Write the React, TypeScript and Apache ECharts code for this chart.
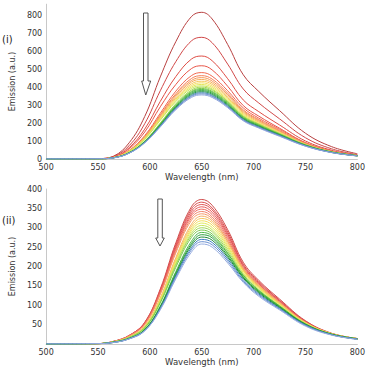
import React, { useEffect, useRef } from "react";
import * as echarts from "echarts";

// Wavelength sampling (nm)
const wavelengths = [500, 550, 565, 580, 595, 610, 625, 640, 650, 660, 675, 690, 705, 725, 750, 775, 800];

// Panel (i) emission spectra (a.u.), highest to lowest
const panelISpectra: number[][] = [
  [0, 2, 16, 90, 236, 456, 652, 791, 815, 778, 636, 468, 375, 269, 143, 69, 29],
  [0, 2, 14, 74, 196, 379, 541, 656, 676, 646, 527, 389, 311, 223, 118, 57, 24],
  [0, 2, 11, 63, 166, 320, 458, 555, 572, 546, 446, 328, 263, 189, 100, 49, 20],
  [0, 2, 10, 57, 150, 290, 414, 502, 518, 495, 404, 297, 238, 171, 91, 44, 18],
  [0, 1, 9, 48, 130, 254, 377, 463, 480, 460, 379, 284, 227, 165, 90, 45, 20],
  [0, 1, 9, 46, 125, 245, 363, 447, 463, 444, 366, 273, 219, 159, 87, 43, 19],
  [0, 1, 9, 45, 122, 240, 355, 436, 452, 433, 357, 267, 214, 155, 85, 42, 19],
  [0, 1, 8, 44, 119, 234, 347, 427, 442, 423, 349, 261, 209, 152, 83, 41, 19],
  [0, 1, 8, 43, 117, 229, 339, 417, 432, 414, 341, 255, 204, 148, 81, 40, 18],
  [0, 1, 8, 42, 114, 224, 332, 408, 423, 405, 334, 249, 200, 145, 80, 39, 18],
  [0, 1, 8, 41, 112, 219, 325, 400, 414, 397, 327, 244, 196, 142, 78, 39, 17],
  [0, 1, 8, 41, 110, 215, 319, 392, 406, 389, 321, 239, 192, 139, 76, 38, 17],
  [0, 1, 7, 36, 100, 200, 307, 383, 399, 383, 319, 237, 194, 142, 80, 40, 19],
  [0, 1, 7, 35, 98, 196, 302, 376, 392, 376, 314, 233, 190, 139, 78, 39, 19],
  [0, 1, 7, 35, 97, 193, 297, 371, 386, 371, 309, 230, 187, 137, 77, 39, 19],
  [0, 1, 7, 34, 95, 190, 293, 365, 380, 365, 304, 226, 184, 135, 76, 38, 18],
  [0, 1, 7, 34, 94, 187, 288, 359, 374, 359, 299, 223, 181, 133, 75, 37, 18],
  [0, 1, 7, 33, 92, 184, 283, 353, 368, 353, 294, 219, 178, 131, 74, 37, 18],
  [0, 1, 7, 33, 91, 181, 279, 348, 362, 348, 290, 216, 175, 129, 72, 36, 17],
  [0, 1, 6, 32, 89, 178, 274, 342, 356, 342, 285, 212, 172, 126, 71, 36, 17],
];

const panelIColors = [
  "#b84040", "#d04848", "#de4c44", "#e85548", "#f06850",
  "#f48058", "#f59a5c", "#f6b060", "#f6c862", "#f4de60",
  "#e4e85c", "#c8e45a", "#a4d854", "#7cca4e", "#54b848",
  "#34a640", "#2a9450", "#4a8ab0", "#6a8fcc", "#8ea4dc",
];

// Panel (ii) emission spectra (a.u.), highest to lowest
const panelIISpectra: number[][] = [
  [0, 1, 7, 22, 56, 142, 261, 354, 373, 358, 295, 211, 164, 116, 60, 28, 14],
  [0, 1, 7, 22, 55, 139, 256, 348, 366, 351, 289, 206, 161, 113, 59, 27, 14],
  [0, 1, 6, 22, 54, 137, 252, 342, 360, 346, 284, 203, 158, 112, 58, 27, 14],
  [0, 1, 6, 21, 53, 135, 248, 336, 354, 340, 280, 200, 155, 110, 57, 27, 13],
  [0, 1, 6, 21, 52, 132, 244, 331, 348, 334, 275, 196, 154, 108, 56, 26, 13],
  [0, 1, 6, 21, 51, 130, 239, 325, 342, 328, 270, 193, 151, 106, 55, 26, 13],
  [0, 1, 6, 20, 50, 128, 235, 319, 336, 323, 265, 190, 148, 104, 54, 25, 13],
  [0, 1, 6, 18, 46, 119, 223, 309, 330, 318, 264, 195, 152, 107, 56, 27, 14],
  [0, 1, 6, 18, 45, 117, 219, 303, 324, 313, 259, 191, 149, 105, 55, 27, 14],
  [0, 1, 5, 17, 45, 114, 215, 297, 318, 307, 254, 188, 146, 103, 54, 26, 14],
  [0, 1, 5, 17, 44, 112, 211, 292, 312, 301, 250, 184, 144, 101, 53, 26, 13],
  [0, 1, 5, 17, 43, 110, 207, 286, 306, 295, 245, 181, 141, 99, 52, 25, 13],
  [0, 1, 5, 17, 42, 108, 203, 281, 300, 290, 240, 178, 138, 98, 51, 25, 13],
  [0, 1, 5, 16, 41, 106, 198, 275, 294, 284, 235, 173, 135, 96, 50, 24, 13],
  [0, 1, 5, 14, 37, 98, 187, 265, 288, 279, 233, 177, 138, 98, 52, 26, 14],
  [0, 1, 5, 14, 37, 96, 183, 259, 282, 274, 228, 173, 135, 96, 51, 25, 13],
  [0, 1, 4, 14, 36, 94, 179, 254, 276, 268, 224, 170, 132, 94, 50, 25, 13],
  [0, 1, 4, 14, 35, 92, 176, 248, 270, 262, 219, 166, 129, 92, 49, 24, 13],
  [0, 1, 4, 13, 34, 90, 172, 243, 264, 256, 214, 162, 126, 90, 48, 24, 12],
  [0, 1, 4, 13, 34, 88, 168, 237, 258, 250, 209, 159, 123, 88, 46, 23, 12],
];

const panelIIColors = [
  "#cf4a4a", "#d94f4f", "#e05555", "#e85a5a", "#ee6a60",
  "#f08068", "#f59a68", "#f6b064", "#f5c85e", "#f2de5a",
  "#e2ea5a", "#c4e45a", "#9fd655", "#78c850", "#4cb848",
  "#2a9e3c", "#1f8a3a", "#3f7fc0", "#6a8fd0", "#98aee0",
];

const xAxisTitle = "Wavelength (nm)";
const yAxisTitle = "Emission (a.u.)";
const panelLabels = ["(i)", "(ii)"];

const FONT = "DejaVu Sans";

export default function App() {
  const ref = useRef<HTMLDivElement>(null);

  useEffect(() => {
    if (!ref.current) return;
    const chart = echarts.init(ref.current, undefined, { renderer: "svg" });

    const axisLabel = { color: "#333", fontSize: 8, fontFamily: FONT, margin: 4 };
    const axisLine = { show: true, lineStyle: { color: "#c8c8c8", width: 1 } };
    const nameStyle = { color: "#333", fontSize: 8, fontFamily: FONT };

    const series: any[] = [];
    panelISpectra.forEach((vals, i) => {
      series.push({
        type: "line",
        xAxisIndex: 0,
        yAxisIndex: 0,
        data: wavelengths.map((w, j) => [w, vals[j]]),
        showSymbol: false,
        smooth: 0.4,
        lineStyle: { width: 1, color: panelIColors[i] },
        silent: true,
      });
    });
    panelIISpectra.forEach((vals, i) => {
      series.push({
        type: "line",
        xAxisIndex: 1,
        yAxisIndex: 1,
        data: wavelengths.map((w, j) => [w, vals[j]]),
        showSymbol: false,
        smooth: 0.4,
        lineStyle: { width: 1, color: panelIIColors[i] },
        silent: true,
      });
    });

    chart.setOption({
      animation: false,
      backgroundColor: "#ffffff",
      textStyle: { fontFamily: FONT },
      grid: [
        { left: 37, width: 322, top: 4.2, height: 154.8 },
        { left: 37, width: 322, top: 189, height: 155 },
      ],
      xAxis: [0, 1].map((g) => ({
        type: "value",
        gridIndex: g,
        min: 500,
        max: 800,
        interval: 50,
        axisLine,
        axisTick: { show: false },
        splitLine: { show: false },
        axisLabel,
        name: xAxisTitle,
        nameLocation: "middle",
        nameGap: 13,
        nameTextStyle: { ...nameStyle, fontSize: 8.5 },
      })),
      yAxis: [
        {
          type: "value",
          gridIndex: 0,
          min: 0,
          max: 860,
          interval: 100,
          axisLine,
          axisTick: { show: false },
          splitLine: { show: false },
          axisLabel: { ...axisLabel, showMaxLabel: false },
          name: yAxisTitle,
          nameLocation: "middle",
          nameGap: 29,
          nameTextStyle: nameStyle,
        },
        {
          type: "value",
          gridIndex: 1,
          min: 0,
          max: 400,
          interval: 50,
          axisLine,
          axisTick: { show: false },
          splitLine: { show: false },
          axisLabel: { ...axisLabel, showMinLabel: false },
          name: yAxisTitle,
          nameLocation: "middle",
          nameGap: 29,
          nameTextStyle: nameStyle,
        },
      ],
      graphic: [
        {
          type: "text",
          left: 2,
          top: 34,
          style: { text: panelLabels[0], fontSize: 10, fontFamily: FONT, fill: "#222" },
        },
        {
          type: "text",
          left: 2,
          top: 215,
          style: { text: panelLabels[1], fontSize: 10, fontFamily: FONT, fill: "#222" },
        },
        {
          type: "polygon",
          shape: {
            points: [
              [143.5, 13], [148, 13], [148, 81], [150.7, 81], [145.75, 95],
              [141.7, 81], [143.5, 81],
            ],
          },
          style: { fill: "#fff", stroke: "#555", lineWidth: 1 },
        },
        {
          type: "polygon",
          shape: {
            points: [
              [157.8, 199], [162.3, 199], [162.3, 238], [164.3, 238], [160, 246],
              [155.7, 238], [157.8, 238],
            ],
          },
          style: { fill: "#fff", stroke: "#555", lineWidth: 1 },
        },
      ],
      series,
    });

    return () => chart.dispose();
  }, []);

  return (
    <div
      ref={ref}
      style={{ position: "fixed", left: 0, top: 0, width: 368, height: 368 }}
    />
  );
}
